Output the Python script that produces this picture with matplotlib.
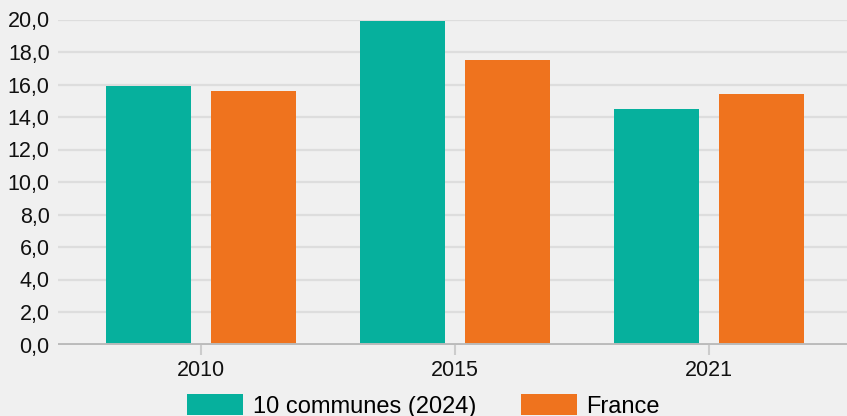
import numpy as np
import matplotlib
matplotlib.use('Agg')
import matplotlib.pyplot as plt
from matplotlib.ticker import MultipleLocator, FuncFormatter

# data
years = ['2010', '2015', '2021']
communes = [15.9, 19.9, 14.5]
france = [15.6, 17.5, 15.4]
labels = ['10 communes (2024)', 'France']

teal = '#06b09d'
orange = '#ef731e'
bg = '#f0f0f0'

plt.rcParams['font.family'] = ['Liberation Sans', 'DejaVu Sans']

fig = plt.figure(figsize=(8.47, 4.16), dpi=100, facecolor=bg)
ax = fig.add_axes([58/847, 1-344.5/416, 1-58/847, (344.5-19.5)/416])
ax.set_facecolor(bg)

x = np.arange(len(years))
w = 0.335
off = 0.2067
ax.bar(x-off, communes, w, color=teal, label=labels[0], zorder=3)
ax.bar(x+off, france, w, color=orange, label=labels[1], zorder=3)

ax.set_xlim(-0.563, 2.543)
ax.set_ylim(0, 20)
ax.yaxis.set_major_locator(MultipleLocator(2))
ax.yaxis.set_major_formatter(FuncFormatter(lambda v, p: f'{v:.1f}'.replace('.', ',')))
ax.set_xticks(x)
ax.set_xticklabels(years)

ax.grid(axis='y', color='#dddddd', lw=1.6, zorder=0)
ax.axhline(0, color='#bbbbbb', lw=2.8, zorder=4)
for s in ax.spines.values():
    s.set_visible(False)
ax.tick_params(axis='y', length=0, pad=6, labelsize=15.5, labelcolor='#111111')
ax.tick_params(axis='x', length=7, width=1.5, color='#cccccc', pad=4,
               labelsize=15.5, labelcolor='#111111')

fig.legend(loc='lower center', bbox_to_anchor=(0.5, -0.027), ncol=2, frameon=False,
           fontsize=17, handlelength=2.37, handleheight=1.0, handletextpad=0.4,
           columnspacing=1.9, borderaxespad=0)

fig.savefig('out.png', dpi=100, facecolor=bg)
